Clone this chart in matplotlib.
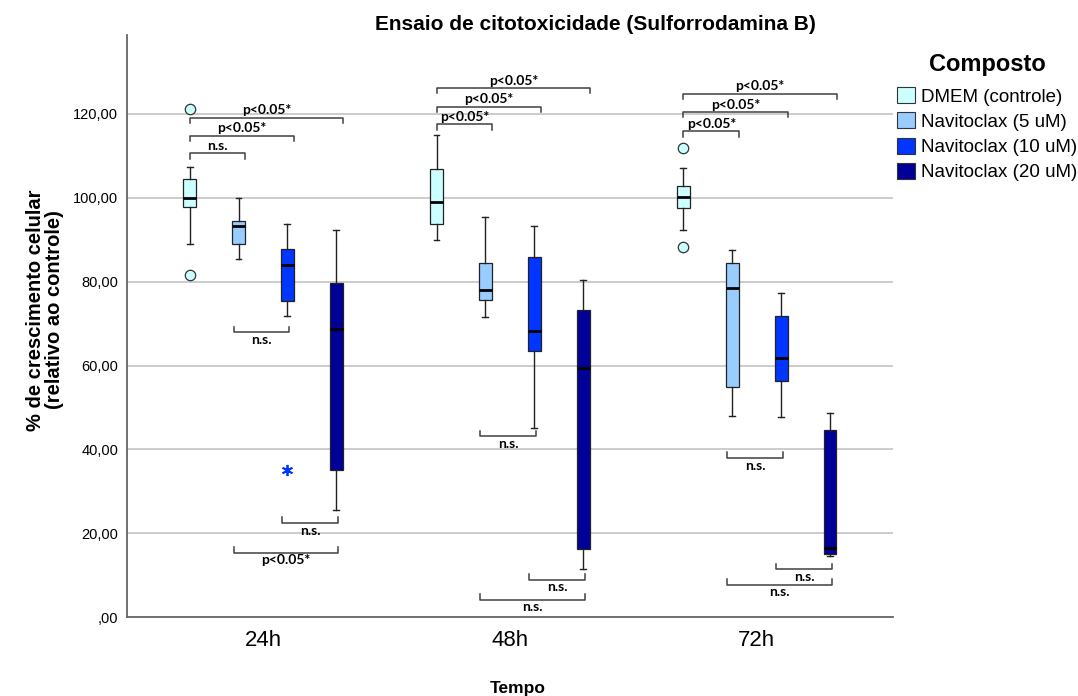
import matplotlib
matplotlib.use('Agg')
import matplotlib.pyplot as plt
from matplotlib.patches import Patch

plt.rcParams['font.family'] = 'Liberation Sans'

tempos = ['24h', '48h', '72h']
compostos = ['DMEM (controle)', 'Navitoclax (5 uM)', 'Navitoclax (10 uM)', 'Navitoclax (20 uM)']
cores = ['#ccffff', '#99ccff', '#0036ff', '#000099']

# box statistics, one row per time point, one value per compound
whis_lo = [[89.1, 85.5, 71.8, 25.6],
           [89.9, 71.5, 45.1, 11.4],
           [92.3, 48.1, 47.7, 14.7]]
q1 = [[97.9, 89.1, 75.3, 35.1],
      [93.7, 75.7, 63.5, 16.2],
      [97.5, 54.8, 56.3, 15.1]]
mediana = [[100.0, 93.3, 84.0, 68.8],
           [99.0, 78.1, 68.2, 59.4],
           [100.2, 78.4, 61.9, 16.5]]
q3 = [[104.4, 94.4, 87.9, 79.8],
      [106.8, 84.5, 85.8, 73.3],
      [102.7, 84.5, 71.9, 44.6]]
whis_hi = [[107.3, 100.0, 93.7, 92.3],
           [115.0, 95.3, 93.2, 80.4],
           [107.2, 87.6, 77.3, 48.6]]
# outliers (o) and extreme values (*)
outliers = [[[121.2, 81.6], [], [], []],
            [[], [], [], []],
            [[111.8, 88.2], [], [], []]]
extremos = [[[], [], [35.2], []],
            [[], [], [], []],
            [[], [], [], []]]

# pairwise comparisons: (time, box a, box b, bracket level, label)
comparacoes = [
    (0, 0, 1, 110.6, 'n.s.'), (0, 0, 2, 114.8, 'p<0.05*'), (0, 0, 3, 119.1, 'p<0.05*'),
    (0, 1, 2, 67.9, 'n.s.'), (0, 2, 3, 22.5, 'n.s.'), (0, 1, 3, 15.4, 'p<0.05*'),
    (1, 0, 1, 117.5, 'p<0.05*'), (1, 0, 2, 121.7, 'p<0.05*'), (1, 0, 3, 126.2, 'p<0.05*'),
    (1, 1, 2, 43.2, 'n.s.'), (1, 2, 3, 9.0, 'n.s.'), (1, 1, 3, 4.2, 'n.s.'),
    (2, 0, 1, 115.9, 'p<0.05*'), (2, 0, 2, 120.5, 'p<0.05*'), (2, 0, 3, 124.8, 'p<0.05*'),
    (2, 1, 2, 38.0, 'n.s.'), (2, 2, 3, 11.5, 'n.s.'), (2, 1, 3, 7.8, 'n.s.'),
]

W, H = 1078, 696
fig = plt.figure(figsize=(W / 100, H / 100), dpi=100)
ax = fig.add_axes([126.7 / W, 1 - 617.3 / H, (893 - 126.7) / W, 582.3 / H])

passo = 0.198


def pos(t, k):
    return t + (k - 1.5) * passo


for t in range(len(tempos)):
    for k in range(len(compostos)):
        st = [dict(whislo=whis_lo[t][k], q1=q1[t][k], med=mediana[t][k],
                   q3=q3[t][k], whishi=whis_hi[t][k], fliers=[])]
        ax.bxp(st, positions=[pos(t, k)], widths=0.052, capwidths=0.024,
               patch_artist=True, showfliers=False, manage_ticks=False,
               boxprops=dict(facecolor=cores[k], edgecolor='#222222', linewidth=0.9),
               medianprops=dict(color='black', linewidth=2.0),
               whiskerprops=dict(color='#222222', linewidth=1.0),
               capprops=dict(color='#222222', linewidth=1.0))
        if outliers[t][k]:
            ax.plot([pos(t, k)] * len(outliers[t][k]), outliers[t][k], 'o',
                    mfc=cores[k], mec='#333333', mew=0.9, ms=7.5, zorder=4)
        if extremos[t][k]:
            ax.plot([pos(t, k)] * len(extremos[t][k]), extremos[t][k],
                    marker=(6, 2, 0), ls='none', color=cores[k], mew=1.3, ms=8, zorder=4)

# significance brackets
tick = 1.3
for t, a, b, y, txt in comparacoes:
    if a == 0:
        x0, x1 = pos(t, a), pos(t, b) + 0.028
        ax.plot([x0, x0, x1, x1], [y - tick, y, y, y - tick], color='#404040', lw=1.1)
        ax.text((x0 + x1) / 2, y + 0.3, txt, ha='center', va='bottom',
                fontsize=10, fontweight='bold', family='Lato')
    else:
        x0, x1 = pos(t, a) - 0.02, pos(t, b) + 0.008
        ax.plot([x0, x0, x1, x1], [y + tick, y, y, y + tick], color='#404040', lw=1.1)
        ax.text((x0 + x1) / 2, y - 0.4, txt, ha='center', va='top',
                fontsize=10, fontweight='bold', family='Lato')

ax.set_xlim(-0.552, 2.552)
ax.set_ylim(0, 138.8)
ax.set_xticks(range(len(tempos)), tempos, fontsize=16)
yt = [0, 20, 40, 60, 80, 100, 120]
ylab = []
for v in yt:
    s = f'{v:.2f}'.replace('.', ',')
    ylab.append(s[1:] if v == 0 else s)
ax.set_yticks(yt, ylab, fontsize=10.5)
ax.tick_params(axis='both', length=0)
ax.tick_params(axis='x', pad=9)
ax.tick_params(axis='y', pad=6)

ax.yaxis.grid(True, color='#c8c8c8', lw=1.3)
ax.set_axisbelow(True)
for s in ['top', 'right']:
    ax.spines[s].set_visible(False)
for s in ['left', 'bottom']:
    ax.spines[s].set_color('#666666')
    ax.spines[s].set_linewidth(1.3)

fig.text(595 / W, 1 - 24 / H, 'Ensaio de citotoxicidade (Sulforrodamina B)',
         ha='center', va='center', fontsize=15, fontweight='bold')
fig.text(45 / W, 1 - 310 / H, '% de crescimento celular\n(relativo ao controle)',
         ha='center', va='center', rotation=90, fontsize=14.5, fontweight='bold',
         linespacing=0.95)
fig.text(518 / W, 1 - 688 / H, 'Tempo', ha='center', va='center',
         fontsize=12.5, fontweight='bold')

# legend
fig.text(987 / W, 1 - 65 / H, 'Composto', ha='center', va='center',
         fontsize=17, fontweight='bold')
handles = [Patch(facecolor=c, edgecolor='#333333', lw=0.8) for c in cores]
fig.legend(handles, compostos, loc='upper left', bbox_to_anchor=(897 / W, 1 - 87 / H),
           frameon=False, fontsize=13.5,
           handlelength=0.98, handleheight=0.95, handletextpad=0.3,
           labelspacing=0.36, borderpad=0, borderaxespad=0)

fig.savefig('out.png', dpi=100)
